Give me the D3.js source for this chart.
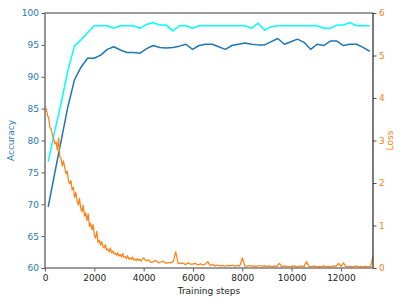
<!DOCTYPE html>
<html>
<head>
<meta charset="utf-8">
<script src="https://cdn.jsdelivr.net/npm/d3@7"></script>
<style>
  body { margin: 0; background: #fff; }
  text { font-family: "DejaVu Sans", sans-serif; }
</style>
</head>
<body>
<div class="chart"></div>
<script>
// accuracy evaluated every ~266 steps
const accSteps = [130, 396, 662, 928, 1194, 1460, 1726, 1992, 2258, 2524,
  2790, 3056, 3322, 3588, 3854, 4120, 4386, 4652, 4918, 5184,
  5450, 5716, 5982, 6248, 6514, 6780, 7046, 7312, 7578, 7844,
  8110, 8376, 8642, 8908, 9174, 9440, 9706, 9972, 10238, 10504,
  10770, 11036, 11302, 11568, 11834, 12100, 12366, 12632, 12898, 13164];

const trainAcc = [76.7, 81.5, 86.0, 91.0, 94.8, 95.8, 96.9, 98.0, 98.0, 98.0,
  97.6, 98.0, 98.0, 98.0, 97.6, 98.2, 98.5, 98.1, 98.1, 97.2,
  98.0, 98.0, 97.6, 98.0, 98.0, 98.0, 98.0, 98.0, 98.0, 98.0,
  98.0, 97.6, 98.4, 97.3, 97.85, 98.0, 98.0, 98.0, 98.0, 98.0,
  98.0, 98.0, 97.6, 97.6, 98.1, 98.1, 98.5, 98.0, 98.0, 98.0];

const testAcc = [69.6, 74.9, 80.1, 85.3, 89.5, 91.5, 92.9, 92.9, 93.4, 94.3,
  94.7, 94.2, 93.8, 93.8, 93.7, 94.4, 94.9, 94.6, 94.5, 94.6,
  94.8, 95.1, 94.3, 94.9, 95.1, 95.1, 94.7, 94.3, 94.9, 95.1,
  95.3, 95.1, 95.0, 95.0, 95.5, 96.0, 95.1, 95.5, 95.9, 95.4,
  94.3, 95.1, 94.9, 95.6, 95.6, 94.9, 95.1, 95.1, 94.6, 94.0];

// loss logged every 50 steps up to 4000, then every 100 steps up to 13300
const lossSteps = d3.range(0, 4000, 50).concat(d3.range(4000, 13301, 100));
const loss = [
  3.80, 3.74, 3.60, 3.52, 3.30, 3.28, 3.12, 3.05, 2.92, 2.96,
  2.78, 3.06, 2.62, 2.58, 2.40, 2.52, 2.36, 2.22, 2.28, 2.05,
  1.98, 2.06, 1.84, 1.90, 1.66, 1.78, 1.58, 1.48, 1.64, 1.40,
  1.32, 1.48, 1.22, 1.30, 1.12, 1.28, 0.98, 1.05, 0.90, 1.02,
  0.78, 0.70, 0.86, 0.60, 0.66, 0.54, 0.62, 0.50, 0.47, 0.55,
  0.42, 0.45, 0.38, 0.47, 0.36, 0.40, 0.33, 0.35, 0.30, 0.36,
  0.28, 0.32, 0.26, 0.34, 0.25, 0.27, 0.22, 0.29, 0.21, 0.24,
  0.20, 0.26, 0.19, 0.21, 0.17, 0.22, 0.18, 0.20, 0.16, 0.21,
  // 4000 .. 13300 by 100
  0.24, 0.17, 0.19, 0.13, 0.15, 0.18, 0.12, 0.14, 0.16, 0.11,
  0.13, 0.12, 0.15, 0.38, 0.10, 0.12, 0.11, 0.08, 0.12, 0.09,
  0.09, 0.11, 0.07, 0.10, 0.07, 0.09, 0.15, 0.06, 0.08, 0.05,
  0.07, 0.05, 0.06, 0.04, 0.06, 0.05, 0.07, 0.04, 0.06, 0.05,
  0.24, 0.05, 0.04, 0.06, 0.04, 0.05, 0.04, 0.06, 0.04, 0.05,
  0.04, 0.05, 0.03, 0.05, 0.04, 0.11, 0.03, 0.05, 0.04, 0.03,
  0.04, 0.05, 0.03, 0.04, 0.05, 0.03, 0.15, 0.04, 0.03, 0.05,
  0.03, 0.04, 0.03, 0.05, 0.03, 0.04, 0.03, 0.05, 0.04, 0.11,
  0.04, 0.12, 0.04, 0.03, 0.04, 0.03, 0.05, 0.03, 0.04, 0.03,
  0.04, 0.03, 0.04, 0.27];

const xTicks = [0, 2000, 4000, 6000, 8000, 10000, 12000];
const accTicks = [60, 65, 70, 75, 80, 85, 90, 95, 100];
const lossTicks = [0, 1, 2, 3, 4, 5, 6];

const W = 407, H = 305;
const margin = { top: 13, left: 45, bottom: 37, right: 34 };
const width = W - margin.left - margin.right,
  height = H - margin.top - margin.bottom;

const blue = "#1f77b4", orange = "#ff7f0e", cyan = "#00ffff";

const svg = d3
  .select(".chart")
  .append("svg")
  .attr("width", W)
  .attr("height", H)
  .append("g")
  .attr("transform", `translate(${margin.left},${margin.top})`);

const xScale = d3.scaleLinear().domain([0, 13300]).range([0, width]);
const yAcc = d3.scaleLinear().domain([60, 100]).range([height, 0]);
const yLoss = d3.scaleLinear().domain([0, 6]).range([height, 0]);

const accLine = (vals) =>
  d3.line().x((d, i) => xScale(accSteps[i])).y((d) => yAcc(d))(vals);

svg.append("path")
  .attr("d", accLine(trainAcc))
  .attr("fill", "none")
  .attr("stroke", cyan)
  .attr("stroke-width", 1.5)
  .attr("stroke-linejoin", "round");

svg.append("path")
  .attr("d", accLine(testAcc))
  .attr("fill", "none")
  .attr("stroke", blue)
  .attr("stroke-width", 1.5)
  .attr("stroke-linejoin", "round");

svg.append("path")
  .attr("d", d3.line().x((d, i) => xScale(lossSteps[i])).y((d) => yLoss(d))(loss))
  .attr("fill", "none")
  .attr("stroke", orange)
  .attr("stroke-width", 1.2)
  .attr("stroke-linejoin", "round");

// axes
const styleAxis = (g, color) => {
  g.select(".domain").remove();
  g.selectAll(".tick line").attr("stroke", "#555").attr("stroke-width", 1);
  g.selectAll(".tick text")
    .attr("fill", color)
    .attr("font-size", "9px")
    .attr("font-family", "DejaVu Sans, sans-serif");
};

svg.append("g")
  .attr("transform", `translate(0,${height})`)
  .call(d3.axisBottom(xScale).tickValues(xTicks).tickFormat(d3.format("d"))
    .tickSize(3.5).tickPadding(3))
  .call((g) => styleAxis(g, "#222"));

svg.append("g")
  .call(d3.axisLeft(yAcc).tickValues(accTicks).tickFormat(d3.format("d"))
    .tickSize(3.5).tickPadding(2.5))
  .call((g) => styleAxis(g, blue));

svg.append("g")
  .attr("transform", `translate(${width},0)`)
  .call(d3.axisRight(yLoss).tickValues(lossTicks).tickFormat(d3.format("d"))
    .tickSize(3.5).tickPadding(2.5))
  .call((g) => styleAxis(g, orange));

// spines
svg.append("path")
  .attr("d", `M0,${height}V0H${width}`)
  .attr("fill", "none")
  .attr("stroke", "#7a7a7a")
  .attr("stroke-width", 1.6);
svg.append("line")
  .attr("x1", 0).attr("x2", width)
  .attr("y1", height).attr("y2", height)
  .attr("stroke", "#7a7a7a")
  .attr("stroke-width", 1.6);
svg.append("line")
  .attr("x1", width).attr("x2", width)
  .attr("y1", 0).attr("y2", height)
  .attr("stroke", "#222")
  .attr("stroke-width", 1.2);

// labels
svg.append("text")
  .attr("x", width / 2)
  .attr("y", height + 26)
  .attr("text-anchor", "middle")
  .attr("font-size", "9px")
  .attr("fill", "#222")
  .text("Training steps");

svg.append("text")
  .attr("transform", `translate(${-31},${height / 2}) rotate(-90)`)
  .attr("text-anchor", "middle")
  .attr("font-size", "9px")
  .attr("fill", blue)
  .text("Accuracy");

svg.append("text")
  .attr("transform", `translate(${width + 20},${height / 2}) rotate(-90)`)
  .attr("text-anchor", "middle")
  .attr("font-size", "9px")
  .attr("fill", orange)
  .text("Loss");
</script>
</body>
</html>
